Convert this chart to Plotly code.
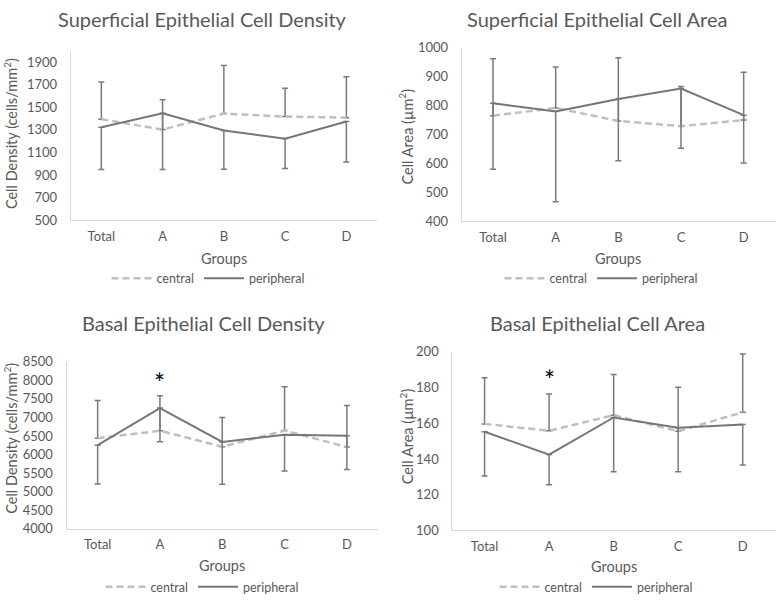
import plotly.graph_objects as go

groups = ["Total", "A", "B", "C", "D"]

# Superficial Epithelial Cell Density (cells/mm2)
sup_den_central = [1395, 1303, 1445, 1418, 1409]
sup_den_central_plus = [330, 264, 426, 252, 362]
sup_den_peripheral = [1323, 1447, 1295, 1223, 1375]
sup_den_peripheral_minus = [373, 497, 344, 264, 359]

# Superficial Epithelial Cell Area (um2)
sup_area_central = [765, 792, 747, 729, 750]
sup_area_central_plus = [197, 141, 218, 137, 165]
sup_area_peripheral = [808, 780, 823, 859, 767]
sup_area_peripheral_minus = [228, 312, 213, 206, 165]

# Basal Epithelial Cell Density (cells/mm2)
bas_den_central = [6440, 6640, 6210, 6645, 6205]
bas_den_central_plus = [1012, 943, 786, 1182, 1115]
bas_den_peripheral = [6250, 7250, 6340, 6530, 6505]
bas_den_peripheral_minus = [1044, 909, 1142, 975, 906]

# Basal Epithelial Cell Area (um2)
bas_area_central = [159.7, 155.8, 164.6, 155.6, 166.2]
bas_area_central_plus = [25.9, 20.7, 22.7, 24.6, 32.7]
bas_area_peripheral = [155.3, 142.5, 163.3, 157.6, 159.3]
bas_area_peripheral_minus = [24.8, 16.9, 30.4, 24.7, 22.6]

sig_group = "A"
sig_bas_den = 7930
sig_bas_area = 184.5

titles = ["Superficial Epithelial Cell Density", "Superficial Epithelial Cell Area",
          "Basal Epithelial Cell Density", "Basal Epithelial Cell Area"]
ytitles = ["Cell Density (cells/mm<sup>2</sup>)", "Cell Area (µm<sup>2</sup>)",
           "Cell Density (cells/mm<sup>2</sup>)", "Cell Area (µm<sup>2</sup>)"]

FONT = "Lato, Carlito, Calibri, sans-serif"
TXT = "#595959"
CENTRAL_C = "#bfbfbf"
PERIPH_C = "#767676"
ERR_C = "#7a7a7a"
AXIS_C = "#d9d9d9"
W, H = 778, 603

panels = [
    (sup_den_central, sup_den_central_plus, sup_den_peripheral, sup_den_peripheral_minus),
    (sup_area_central, sup_area_central_plus, sup_area_peripheral, sup_area_peripheral_minus),
    (bas_den_central, bas_den_central_plus, bas_den_peripheral, bas_den_peripheral_minus),
    (bas_area_central, bas_area_central_plus, bas_area_peripheral, bas_area_peripheral_minus),
]

# pixel layout (left, right, top, bottom of plot areas)
boxes = [(70.7, 377, 44.1, 218), (461.7, 775, 40.7, 219.3),
         (66.5, 378, 363.3, 535), (452.3, 775, 353.3, 536.7)]
yranges = [[500, 2000], [400, 1000], [4000, 8500], [100, 200]]
ydticks = [200, 100, 500, 20]
ytick0 = [500, 400, 4000, 100]
title_pos = [(202, 11), (597, 11), (203, 324), (597, 324)]
ytitle_pos = [(10.5, 129), (406, 132), (10.5, 442), (406, 440)]
groups_pos = [(224, 257), (618, 257), (222, 573), (614, 574)]
legend_pos = [(208, 278), (601, 278), (202, 595), (596, 595)]

fig = go.Figure()
layout = dict(width=W, height=H, margin=dict(l=0, r=0, t=0, b=0),
              paper_bgcolor="white", plot_bgcolor="white",
              font=dict(family=FONT, color=TXT, size=13), annotations=[])

for i, (c, cp, p, pm) in enumerate(panels):
    n = "" if i == 0 else str(i + 1)
    xa, ya = "x" + n, "y" + n
    leg = "legend" + n
    fig.add_trace(go.Scatter(
        x=groups, y=c, name="central", mode="lines", xaxis=xa, yaxis=ya, legend=leg,
        line=dict(color=CENTRAL_C, width=2.5, dash="7px,4px"),
        error_y=dict(type="data", symmetric=False, array=cp, arrayminus=[0] * len(cp),
                     color=ERR_C, thickness=1.5, width=3)))
    fig.add_trace(go.Scatter(
        x=groups, y=p, name="peripheral", mode="lines", xaxis=xa, yaxis=ya, legend=leg,
        line=dict(color=PERIPH_C, width=2),
        error_y=dict(type="data", symmetric=False, array=[0] * len(pm), arrayminus=pm,
                     color=ERR_C, thickness=1.5, width=3)))
    l, r, t, b = boxes[i]
    layout["xaxis" + n] = dict(domain=[l / W, r / W], anchor=ya, showline=True,
                               linecolor=AXIS_C, linewidth=1, showgrid=False,
                               zeroline=False, ticks="", range=[-0.5, 4.5],
                               tickfont=dict(size=13, color=TXT), ticklabelstandoff=4,
                               fixedrange=True)
    layout["yaxis" + n] = dict(domain=[1 - b / H, 1 - t / H], anchor=xa, showline=True,
                               linecolor=AXIS_C, linewidth=1, showgrid=False,
                               zeroline=False, ticks="", range=yranges[i],
                               tick0=ytick0[i], dtick=ydticks[i],
                               tickfont=dict(size=13, color=TXT), ticklabelstandoff=10,
                               fixedrange=True)
    lx, ly = legend_pos[i]
    layout[leg] = dict(orientation="h", x=lx / W, y=1 - ly / H, xanchor="center",
                       yanchor="middle", font=dict(size=12.5, color=TXT),
                       bgcolor="rgba(0,0,0,0)", itemwidth=40)
    tx, ty = title_pos[i]
    layout["annotations"].append(dict(text=titles[i], x=tx / W, y=1 - ty / H,
                                      xref="paper", yref="paper", showarrow=False,
                                      font=dict(size=20, color=TXT), xanchor="center",
                                      yanchor="middle"))
    yx, yy = ytitle_pos[i]
    layout["annotations"].append(dict(text=ytitles[i], x=yx / W, y=1 - yy / H,
                                      xref="paper", yref="paper", showarrow=False,
                                      textangle=-90, font=dict(size=14.5, color=TXT),
                                      xanchor="center", yanchor="middle"))
    gx, gy = groups_pos[i]
    layout["annotations"].append(dict(text="Groups", x=gx / W, y=1 - gy / H,
                                      xref="paper", yref="paper", showarrow=False,
                                      font=dict(size=14.5, color=TXT),
                                      xanchor="center", yanchor="middle"))

layout["annotations"].append(dict(text="*", x=sig_group, y=sig_bas_den, xref="x3", yref="y3",
                                  showarrow=False, font=dict(size=26, color="black"),
                                  yanchor="middle"))
layout["annotations"].append(dict(text="*", x=sig_group, y=sig_bas_area, xref="x4", yref="y4",
                                  showarrow=False, font=dict(size=26, color="black"),
                                  yanchor="middle"))

fig.update_layout(**layout)
fig.write_html("out.html", config={"displayModeBar": False},
               post_script="document.body.style.margin='0';document.body.style.overflow='hidden';")
